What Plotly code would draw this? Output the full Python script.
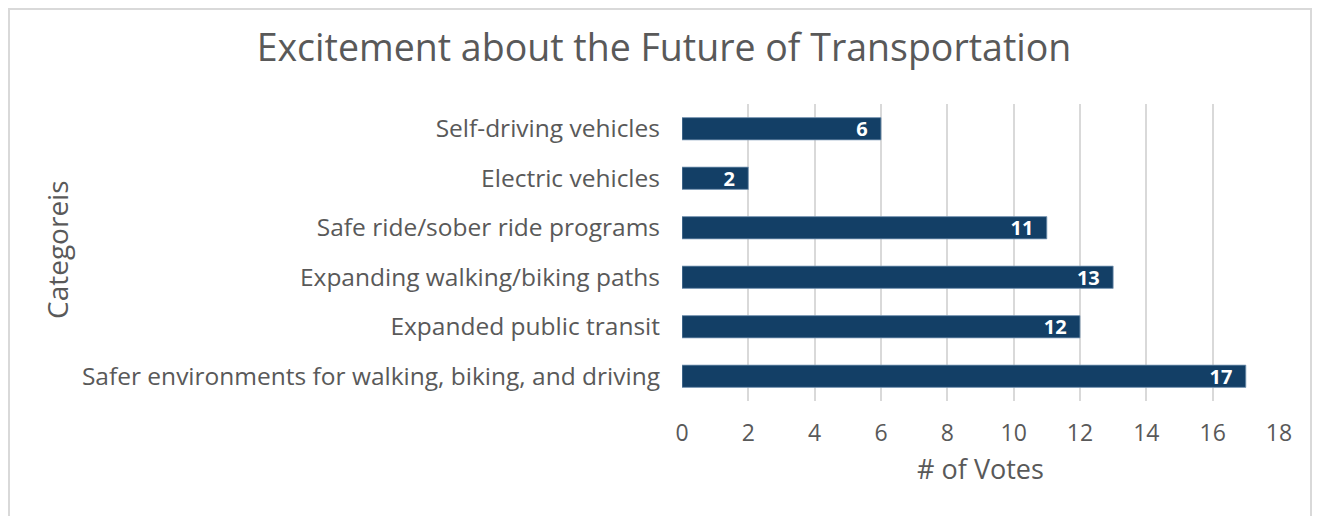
import plotly.graph_objects as go

# categories listed bottom -> top, as plotly draws them
categories = [
    "Safer environments for walking, biking, and driving",
    "Expanded public transit",
    "Expanding walking/biking paths",
    "Safe ride/sober ride programs",
    "Electric vehicles",
    "Self-driving vehicles",
]
votes = [17, 12, 13, 11, 2, 6]
x_ticks = [0, 2, 4, 6, 8, 10, 12, 14, 16, 18]

FONT = "Open Sans"
GREY = "#595959"

# the page puts the figure 8px in from the corner, so the figure is 8px smaller
W, H = 1312, 508
L, T, PW, PH = 674, 96, 597, 297
B = H - T - PH

fig = go.Figure(
    go.Bar(
        x=votes,
        y=categories,
        orientation="h",
        marker=dict(color="#133f66", line=dict(color="#7f9cb8", width=0.8)),
        texttemplate="%{x}\u00a0\u00a0",
        textposition="inside",
        insidetextanchor="end",
        textangle=0,
        constraintext="none",
        textfont=dict(family=FONT, size=20, color="white", weight="bold"),
    )
)

fig.update_layout(
    width=W,
    height=H,
    margin=dict(l=L, r=W - L - PW, t=T, b=B, autoexpand=False),
    paper_bgcolor="white",
    plot_bgcolor="white",
    bargap=0.55,
    showlegend=False,
    font=dict(family=FONT, color=GREY),
    title=dict(
        text="Excitement about the Future of Transportation",
        x=0.5,
        xref="container",
        y=1 - 40 / H,
        yref="container",
        yanchor="middle",
        font=dict(family=FONT, size=37.5, color=GREY),
    ),
    xaxis=dict(
        range=[0, 18],
        tickvals=x_ticks,
        showgrid=True,
        gridcolor="#d9d9d9",
        gridwidth=1.5,
        zeroline=False,
        showline=False,
        ticks="",
        tickfont=dict(size=23, color=GREY),
        ticklabelstandoff=16,
        title=dict(text="# of Votes", font=dict(size=27, color=GREY), standoff=13),
    ),
    yaxis=dict(
        showgrid=False,
        zeroline=False,
        showline=False,
        ticks="",
        tickfont=dict(size=24.5, color=GREY),
        ticklabelstandoff=21,
    ),
)

# outer chart frame (top, left, right edges visible)
fig.add_shape(type="rect", xref="paper", yref="paper",
              x0=(1 - L) / PW, x1=(1303 - L) / PW,
              y0=(T + PH - 530) / PH, y1=(T + PH - 1) / PH,
              line=dict(color="#d9d9d9", width=2), layer="below")

# y-axis title placed far left like the original
fig.add_annotation(
    text="Categoreis", textangle=-90,
    xref="paper", yref="paper",
    x=(49 - L) / PW, y=(T + PH - 242) / PH,
    xanchor="center", yanchor="middle",
    showarrow=False,
    font=dict(size=28, color=GREY),
)

fig.write_html("out.html")
